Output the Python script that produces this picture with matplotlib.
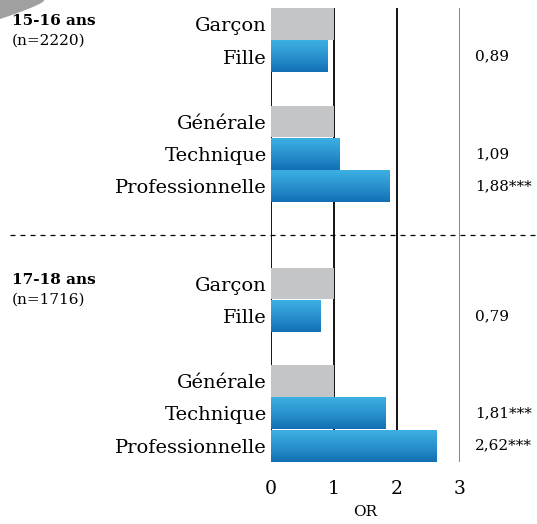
import matplotlib
matplotlib.use('Agg')
import matplotlib.pyplot as plt
import matplotlib.transforms as mtransforms
from matplotlib.colors import LinearSegmentedColormap
from matplotlib.patches import Polygon
import numpy as np

plt.rcParams['font.family'] = ['DejaVu Serif']

# Données
groups = ['15-16 ans', '17-18 ans']
group_n = ['(n=2220)', '(n=1716)']
categories = ['Garçon', 'Fille', 'Générale', 'Technique', 'Professionnelle']
is_reference = [True, False, True, False, False]
or_1516 = [1.0, 0.89, 1.0, 1.09, 1.88]
or_1718 = [1.0, 0.79, 1.0, 1.81, 2.62]
lab_1516 = ['', '0,89', '', '1,09', '1,88***']
lab_1718 = ['', '0,79', '', '1,81***', '2,62***']
xticks = [0, 1, 2, 3]

values = [or_1516, or_1718]
annots = [lab_1516, lab_1718]

row_offsets = [0, 1, 3, 4, 5]
group_offsets = [0, 8]
bar_h = 0.97

W, H = 537, 524
fig = plt.figure(figsize=(W / 100, H / 100), dpi=100, facecolor='white')
ax = fig.add_axes([271 / W, 1 - 462 / H, (460 - 271) / W, (462 - 8) / H])
ax.set_facecolor('white')

cmap = LinearSegmentedColormap.from_list('bleu', ['#3cb0e2', '#2a92cf', '#1270b3'])
grad = np.linspace(0, 1, 64).reshape(-1, 1)

# Lignes verticales
for xv, col in zip(xticks, ['black', 'black', 'black', '#7a7a7a']):
    ax.axvline(xv, color=col, lw=1.3, zorder=1)

ypos, ylabels = [], []
for g in range(len(groups)):
    for i, cat in enumerate(categories):
        y = group_offsets[g] + row_offsets[i]
        v = values[g][i]
        ypos.append(y)
        ylabels.append(cat)
        if is_reference[i]:
            ax.barh(y, v, height=bar_h, color='#c3c5c7', zorder=2)
        else:
            ax.imshow(grad, cmap=cmap, aspect='auto', origin='upper',
                      extent=(0, v, y + bar_h / 2, y - bar_h / 2), zorder=2)
        if annots[g][i]:
            ax.text(3.24, y, annots[g][i], fontsize=11, va='center', ha='left',
                    clip_on=False)

# Étiquettes des groupes
trans = mtransforms.blended_transform_factory(fig.transFigure, ax.transData)
for g in range(len(groups)):
    y0 = group_offsets[g]
    ax.text(12 / W, y0 - 0.1, groups[g], transform=trans, fontsize=11,
            fontweight='bold', va='center', ha='left')
    ax.text(12 / W, y0 + 0.5, group_n[g], transform=trans, fontsize=11,
            va='center', ha='left')

# Ligne de séparation
ax.plot([10 / W, 1.0], [6.5, 6.5], transform=trans, color='black', lw=0.9,
        dashes=(4, 4), clip_on=False)

ax.set_xlim(0, 3)
ax.set_ylim(13.5, -0.5)
ax.set_yticks(ypos)
ax.set_yticklabels(ylabels, fontsize=14)
ax.set_xticks(xticks)
ax.set_xticklabels([str(t) for t in xticks], fontsize=13.5)
ax.tick_params(axis='both', length=0)
ax.tick_params(axis='y', pad=3)
ax.tick_params(axis='x', pad=13)
ax.set_xlabel('OR', fontsize=11, labelpad=5)
for s in ax.spines.values():
    s.set_visible(False)

# Décor gris en haut à gauche
t = np.linspace(0, 1, 20)
cx = 44 * t
cy = 18 * (1 - t) ** 0.8 + 1
pts = [(0, 1)] + [(x / W, 1 - y / H) for x, y in zip(cx, cy)] + [(44 / W, 1)]
deco = Polygon(pts, closed=True, transform=fig.transFigure, color='#a0a0a0', lw=0)
fig.patches.append(deco)

fig.savefig('out.png', dpi=100, facecolor='white')
plt.close(fig)
